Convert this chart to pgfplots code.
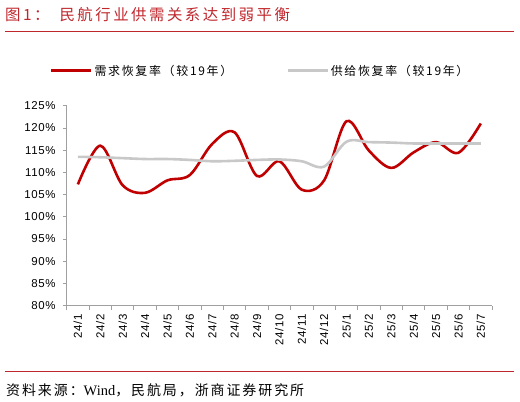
\documentclass[border=0pt]{standalone}
\usepackage{fontspec}
\usepackage{pgfplots}
\pgfplotsset{compat=1.18}
\setmainfont{Liberation Sans}
\newfontfamily\tickfont[LetterSpace=6]{Liberation Sans}
\newfontfamily\cjktitle[LetterSpace=16]{Noto Sans CJK SC}
\newfontfamily\cjkleg[LetterSpace=14]{Noto Sans CJK SC}
\newfontfamily\cjksrc[LetterSpace=14]{Noto Sans CJK SC}
\newfontfamily\serif{Liberation Serif}
\definecolor{dred}{HTML}{C00000}
\definecolor{lgrey}{HTML}{C8C8C8}
\definecolor{axgrey}{HTML}{A0A0A0}
\definecolor{tred}{HTML}{C0272D}
\begin{document}
\begin{tikzpicture}
\useasboundingbox (0bp,0bp) rectangle (520bp,402bp);
% title
\node[anchor=west,text=tred,inner sep=0pt] at (5bp,387bp) {\fontsize{15.5}{17}\cjktitle 图1：\hspace{10bp}民航行业供需关系达到弱平衡};
\draw[tred,line width=0.9bp] (5bp,371bp) -- (514bp,371bp);
\draw[tred,line width=0.9bp] (5bp,30.3bp) -- (514bp,30.3bp);
\node[anchor=west,inner sep=0pt] at (6bp,11.5bp) {\fontsize{14}{15}\cjksrc 资料来源：{\serif\fontsize{14.5}{15}\selectfont Wind}，民航局，浙商证券研究所};
\begin{axis}[
  at={(66.7bp,96.3bp)}, anchor=south west,
  scale only axis, width=425.3bp, height=200bp,
  xmin=-0.5, xmax=18.5, ymin=80, ymax=125,
  axis x line*=bottom, axis y line*=left,
  axis line style={axgrey,line width=0.8bp,-},
  ytick={80,85,...,125},
  yticklabels={80\%,85\%,90\%,95\%,100\%,105\%,110\%,115\%,120\%,125\%},
  xtick={0,...,18},
  xticklabels={24/1,24/2,24/3,24/4,24/5,24/6,24/7,24/8,24/9,24/10,24/11,24/12,25/1,25/2,25/3,25/4,25/5,25/6,25/7},
  minor xtick={-0.5,0.5,...,18.5},
  tick align=outside,
  major x tick style={draw=none},
  minor x tick style={axgrey,line width=0.8bp},
  minor tick length=4bp,
  y tick style={axgrey,line width=0.8bp},
  major tick length=4bp,
  tick label style={font=\fontsize{11.5}{12}\tickfont,text=black},
  yticklabel style={xshift=-3.5bp},
  xticklabel style={rotate=90,anchor=east,yshift=0bp,xshift=-1bp},
  legend columns=2,
  legend style={draw=none,fill=none,at={(0.455,1.175)},anchor=center,
    font=\fontsize{12}{13}\cjkleg,
    /tikz/every even column/.append style={column sep=52bp}},
  legend image code/.code={\draw[#1] (0bp,0bp) -- (40bp,0bp);},
  clip=false,
]
\addplot[dred,line width=2.6bp,smooth,tension=0.55] coordinates {
(0,107.3) (1,116.0) (2,107.1) (3,105.4) (4,108.2) (5,109.4) (6,116.4) (7,119.0) (8,109.2) (9,112.5)
(10,106.1) (11,108.2) (12,121.5) (13,114.9) (14,111.0) (15,114.5) (16,116.8) (17,114.4) (18,121.0)};
\addlegendentry{需求恢复率（较19年）}
\addplot[lgrey,line width=2.6bp,smooth,tension=0.55] coordinates {
(0,113.5) (1,113.4) (2,113.2) (3,113.0) (4,113.0) (5,112.8) (6,112.5) (7,112.6) (8,112.8) (9,112.9)
(10,112.5) (11,111.3) (12,116.9) (13,116.8) (14,116.7) (15,116.5) (16,116.5) (17,116.5) (18,116.5)};
\addlegendentry{供给恢复率（较19年）}
\end{axis}
\end{tikzpicture}
\end{document}
